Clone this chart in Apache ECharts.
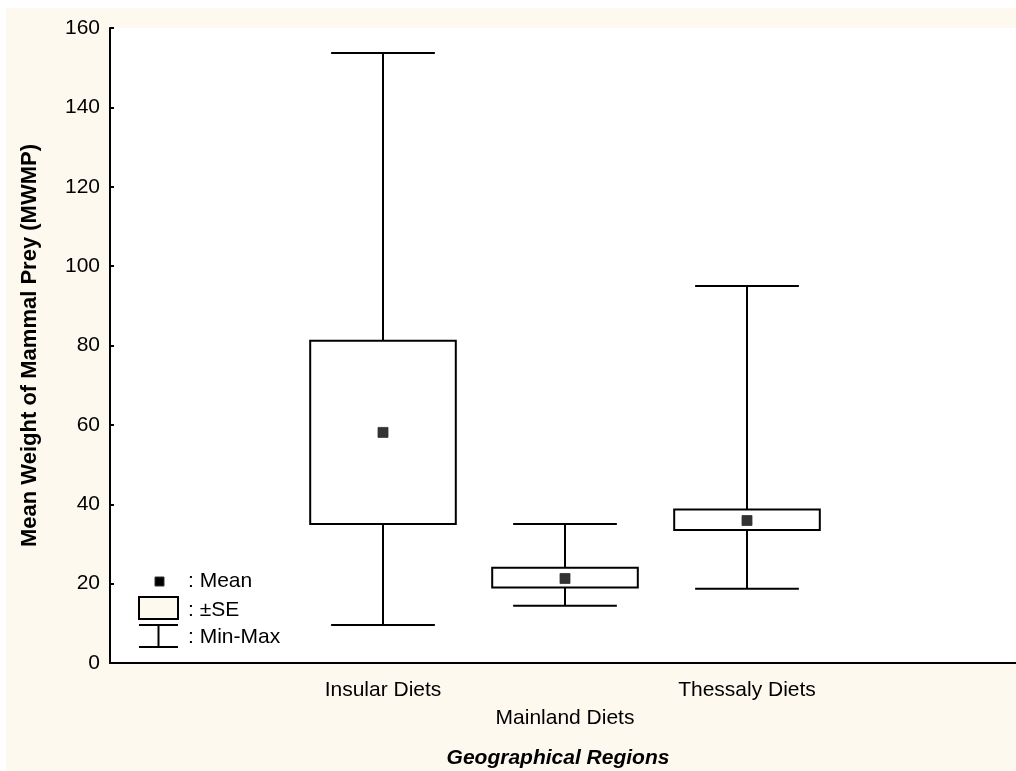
<!DOCTYPE html>
<html>
<head>
<meta charset="utf-8">
<script src="https://cdn.jsdelivr.net/npm/echarts@6/dist/echarts.min.js"></script>
<style>
  html, body { margin: 0; padding: 0; background: #fff; }
  #main { position: absolute; left: 6px; top: 8px; width: 1010px; height: 763px; }
</style>
</head>
<body>
<div id="main"></div>
<script>
// categories (blank slots at both ends, like the original axis)
const categories = ['', 'Insular Diets', 'Mainland Diets', 'Thessaly Diets', ''];
// per group: min, -SE, +SE, max
const minVals  = [9.6, 14.4, 18.7];
const seLow    = [35.0, 19.0, 33.5];
const seHigh   = [81.2, 24.0, 38.7];
const maxVals  = [153.7, 35.0, 95.0];
const means    = [58.1, 21.3, 35.9];
const yTicks   = [0, 20, 40, 60, 80, 100, 120, 140, 160];

const FONT = 'Liberation Sans, Arial, sans-serif';
const CREAM = '#fdf9ef';

const boxData = minVals.map((v, i) => [i + 1, v, seLow[i], seHigh[i], maxVals[i]]);
const meanData = means.map((v, i) => [i + 1, v]);

function renderBox(params, api) {
  const x = api.value(0);
  const pMin = api.coord([x, api.value(1)]);
  const pLo = api.coord([x, api.value(2)]);
  const pHi = api.coord([x, api.value(3)]);
  const pMax = api.coord([x, api.value(4)]);
  const band = api.size([1, 0])[0];
  const bw = band * 0.8, cw = band * 0.57;
  const line = { stroke: '#000', lineWidth: 2 };
  return {
    type: 'group',
    children: [
      { type: 'line', shape: { x1: pMax[0], y1: pMax[1], x2: pHi[0], y2: pHi[1] }, style: line },
      { type: 'line', shape: { x1: pLo[0], y1: pLo[1], x2: pMin[0], y2: pMin[1] }, style: line },
      { type: 'line', shape: { x1: pMax[0] - cw / 2, y1: pMax[1], x2: pMax[0] + cw / 2, y2: pMax[1] }, style: line },
      { type: 'line', shape: { x1: pMin[0] - cw / 2, y1: pMin[1], x2: pMin[0] + cw / 2, y2: pMin[1] }, style: line },
      { type: 'rect', shape: { x: pHi[0] - bw / 2, y: pHi[1], width: bw, height: pLo[1] - pHi[1] },
        style: { fill: '#fff', stroke: '#000', lineWidth: 2 } }
    ]
  };
}

const chart = echarts.init(document.getElementById('main'));
chart.setOption({
  backgroundColor: CREAM,
  animation: false,
  textStyle: { fontFamily: FONT },
  grid: {
    left: 104, top: 20, right: -4, bottom: 108, outerBoundsMode: 'none',
    show: true, backgroundColor: '#fff', borderWidth: 0
  },
  xAxis: {
    type: 'category',
    data: categories,
    name: 'Geographical Regions',
    nameLocation: 'middle',
    nameGap: 85,
    nameTextStyle: { fontSize: 21, fontWeight: 'bold', fontStyle: 'italic', color: '#000', fontFamily: FONT, padding: [0, 14, 0, 0] },
    axisLine: { lineStyle: { color: '#000', width: 2 } },
    axisTick: { alignWithLabel: true, inside: true, length: 4, lineStyle: { color: '#000', width: 2 } },
    axisLabel: {
      interval: 0, margin: 13, fontSize: 21, color: '#000', lineHeight: 28, fontFamily: FONT,
      formatter: (v, i) => (i === 2 ? '\n' + v : v)
    },
    splitLine: { show: false }
  },
  yAxis: {
    type: 'value',
    min: yTicks[0],
    max: yTicks[yTicks.length - 1],
    interval: yTicks[1] - yTicks[0],
    name: 'Mean Weight of Mammal Prey (MWMP)',
    nameLocation: 'middle',
    nameGap: 69,
    nameTextStyle: { fontSize: 22, fontWeight: 'bold', color: '#000', fontFamily: FONT },
    axisLine: { show: true, lineStyle: { color: '#000', width: 2 } },
    axisTick: { show: true, inside: true, length: 4, lineStyle: { color: '#000', width: 2 } },
    axisLabel: { fontSize: 21, color: '#000', margin: 10, fontFamily: FONT },
    splitLine: { show: false }
  },
  series: [
    {
      type: 'custom',
      renderItem: renderBox,
      encode: { x: 0, y: [1, 2, 3, 4] },
      data: boxData,
      z: 2
    },
    {
      type: 'scatter',
      symbol: 'rect',
      symbolSize: 10,
      itemStyle: { color: '#000', borderColor: '#333', borderWidth: 1 },
      data: meanData,
      z: 3
    }
  ],
  graphic: [
    { type: 'rect', shape: { x: 149, y: 569, width: 9, height: 9 }, style: { fill: '#000', stroke: '#333', lineWidth: 1 }, z: 10 },
    { type: 'rect', shape: { x: 133, y: 589, width: 39, height: 22 }, style: { fill: CREAM, stroke: '#000', lineWidth: 2 }, z: 10 },
    { type: 'line', shape: { x1: 133, y1: 617, x2: 172, y2: 617 }, style: { stroke: '#000', lineWidth: 2 }, z: 10 },
    { type: 'line', shape: { x1: 133, y1: 639, x2: 172, y2: 639 }, style: { stroke: '#000', lineWidth: 2 }, z: 10 },
    { type: 'line', shape: { x1: 152.5, y1: 617, x2: 152.5, y2: 639 }, style: { stroke: '#000', lineWidth: 2 }, z: 10 },
    { type: 'text', x: 182, y: 573, style: { text: ': Mean', font: '21px ' + FONT, fill: '#000', verticalAlign: 'middle' }, z: 10 },
    { type: 'text', x: 182, y: 602, style: { text: ': \u00b1SE', font: '21px ' + FONT, fill: '#000', verticalAlign: 'middle' }, z: 10 },
    { type: 'text', x: 182, y: 629, style: { text: ': Min-Max', font: '21px ' + FONT, fill: '#000', verticalAlign: 'middle' }, z: 10 }
  ]
});
</script>
</body>
</html>
